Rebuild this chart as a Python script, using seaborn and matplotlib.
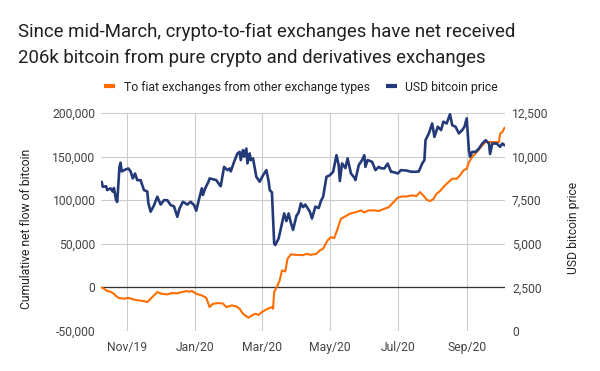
import matplotlib
matplotlib.use("Agg")
import matplotlib.pyplot as plt
import matplotlib.dates as mdates
from matplotlib.ticker import FuncFormatter, MultipleLocator
from matplotlib.lines import Line2D
import seaborn as sns
import pandas as pd

# ---------------- data ----------------
flow_dates = [
    "2019-10-09", "2019-10-11", "2019-10-14", "2019-10-17", "2019-10-20", "2019-10-22",
    "2019-10-24", "2019-10-29", "2019-11-02", "2019-11-07", "2019-11-11", "2019-11-16",
    "2019-11-19", "2019-11-22", "2019-11-25", "2019-11-28", "2019-12-02", "2019-12-07",
    "2019-12-11", "2019-12-16", "2019-12-20", "2019-12-24", "2019-12-27", "2019-12-29",
    "2020-01-02", "2020-01-07", "2020-01-11", "2020-01-14", "2020-01-17", "2020-01-22",
    "2020-01-26", "2020-01-29", "2020-02-03", "2020-02-07", "2020-02-10", "2020-02-13",
    "2020-02-18", "2020-02-21", "2020-02-24", "2020-02-27", "2020-03-01", "2020-03-06",
    "2020-03-10", "2020-03-11", "2020-03-12", "2020-03-15", "2020-03-17", "2020-03-19",
    "2020-03-22", "2020-03-24", "2020-03-27", "2020-04-01", "2020-04-07", "2020-04-10",
    "2020-04-14", "2020-04-19", "2020-04-22", "2020-04-25", "2020-04-29", "2020-05-02",
    "2020-05-05", "2020-05-08", "2020-05-11", "2020-05-14", "2020-05-19", "2020-05-25",
    "2020-05-29", "2020-06-01", "2020-06-05", "2020-06-10", "2020-06-14", "2020-06-19",
    "2020-06-23", "2020-06-26", "2020-07-01", "2020-07-05", "2020-07-09", "2020-07-14",
    "2020-07-18", "2020-07-21", "2020-07-24", "2020-07-27", "2020-07-30", "2020-08-02",
    "2020-08-05", "2020-08-08", "2020-08-11", "2020-08-14", "2020-08-19", "2020-08-23",
    "2020-08-26", "2020-08-29", "2020-09-01", "2020-09-03", "2020-09-06", "2020-09-10",
    "2020-09-15", "2020-09-18", "2020-09-22", "2020-09-27", "2020-09-30", "2020-10-01",
    "2020-10-03", "2020-10-05",
]
flow_btc = [
    0, -1500, -4200, -5000, -7300, -10000,
    -11900, -13000, -11900, -14000, -14900, -15700,
    -16800, -13000, -9200, -5400, -7300, -8000,
    -6500, -6800, -5400, -4200, -5000, -4000,
    -7300, -9200, -11900, -22600, -18800, -18000,
    -18500, -22600, -20700, -21800, -24500, -30200,
    -34800, -32100, -30200, -31500, -28300, -24500,
    -22600, -24500, -5400, 2300, 8000, 19500,
    18300, 32900, 37900, 37300, 37000, 38500,
    37300, 38500, 42400, 44400, 53900, 57700,
    56500, 67300, 78800, 80700, 84500, 86500,
    88300, 86000, 88300, 88300, 87600, 90200,
    92000, 96000, 102900, 104300, 104300, 105500,
    104800, 109300, 105500, 100600, 99000, 101300,
    107500, 110500, 115000, 118900, 124600, 124600,
    128500, 134200, 136000, 143700, 149500, 155200,
    162900, 166700, 166700, 166700, 166700, 176300,
    178100, 183200,
]

price_dates = [
    "2019-10-09", "2019-10-10", "2019-10-13", "2019-10-14", "2019-10-17", "2019-10-19",
    "2019-10-20", "2019-10-22", "2019-10-23", "2019-10-25", "2019-10-26", "2019-10-27",
    "2019-10-30", "2019-11-02", "2019-11-04", "2019-11-06", "2019-11-08", "2019-11-10",
    "2019-11-13", "2019-11-16", "2019-11-19", "2019-11-20", "2019-11-22", "2019-11-25",
    "2019-11-28", "2019-12-01", "2019-12-04", "2019-12-07", "2019-12-10", "2019-12-13",
    "2019-12-16", "2019-12-18", "2019-12-21", "2019-12-25", "2019-12-28", "2019-12-31",
    "2020-01-02", "2020-01-05", "2020-01-07", "2020-01-08", "2020-01-10", "2020-01-13",
    "2020-01-14", "2020-01-17", "2020-01-20", "2020-01-23", "2020-01-24", "2020-01-27",
    "2020-01-30", "2020-02-01", "2020-02-02", "2020-02-05", "2020-02-08", "2020-02-10",
    "2020-02-11", "2020-02-13", "2020-02-14", "2020-02-16", "2020-02-17", "2020-02-19",
    "2020-02-20", "2020-02-22", "2020-02-25", "2020-02-28", "2020-03-02", "2020-03-05",
    "2020-03-07", "2020-03-08", "2020-03-10", "2020-03-12", "2020-03-13", "2020-03-16",
    "2020-03-19", "2020-03-21", "2020-03-23", "2020-03-25", "2020-03-27", "2020-03-29",
    "2020-04-01", "2020-04-03", "2020-04-05", "2020-04-07", "2020-04-09", "2020-04-13",
    "2020-04-15", "2020-04-18", "2020-04-21", "2020-04-23", "2020-04-25", "2020-04-28",
    "2020-05-01", "2020-05-04", "2020-05-07", "2020-05-09", "2020-05-10", "2020-05-12",
    "2020-05-15", "2020-05-17", "2020-05-20", "2020-05-23", "2020-05-24", "2020-05-27",
    "2020-05-30", "2020-06-01", "2020-06-02", "2020-06-04", "2020-06-08", "2020-06-11",
    "2020-06-14", "2020-06-16", "2020-06-19", "2020-06-22", "2020-06-25", "2020-06-28",
    "2020-07-01", "2020-07-04", "2020-07-09", "2020-07-13", "2020-07-17", "2020-07-20",
    "2020-07-23", "2020-07-25", "2020-07-26", "2020-07-29", "2020-08-01", "2020-08-03",
    "2020-08-06", "2020-08-09", "2020-08-11", "2020-08-14", "2020-08-17", "2020-08-19",
    "2020-08-22", "2020-08-25", "2020-08-28", "2020-08-30", "2020-09-01", "2020-09-03",
    "2020-09-04", "2020-09-06", "2020-09-09", "2020-09-12", "2020-09-15", "2020-09-18",
    "2020-09-21", "2020-09-22", "2020-09-24", "2020-09-28", "2020-10-01", "2020-10-03",
    "2020-10-05",
]
price_usd = [
    8555, 8270, 8300, 8080, 8180, 7990,
    8200, 7500, 7400, 9410, 9650, 9150,
    9250, 9320, 9150, 8750, 9030, 8650,
    8650, 8080, 8000, 7320, 6840, 7200,
    7700, 7250, 7500, 7500, 7220, 7150,
    6550, 7030, 7410, 7250, 7410, 7220,
    6900, 7690, 8180, 7800, 8180, 8560,
    8750, 8700, 8650, 8370, 8300, 9410,
    9225, 9320, 9150, 9700, 10180, 10270,
    9800, 10370, 10000, 10460, 9610, 10180,
    9800, 9900, 8840, 8560, 8930, 9225,
    8600, 8080, 7950, 5025, 4930, 5300,
    6170, 6740, 6300, 6740, 6200, 5800,
    6600, 6800, 7320, 7100, 7250, 6850,
    6450, 7130, 7050, 7450, 7700, 8840,
    8930, 9130, 10080, 9500, 8600, 9610,
    9340, 9900, 9030, 8800, 8650, 9510,
    9800, 10080, 9410, 9800, 9700, 9225,
    9410, 9330, 9320, 9600, 9130, 9100,
    9030, 9225, 9200, 9130, 9130, 9150,
    9600, 9800, 10940, 11330, 11900, 11130,
    11710, 11520, 12000, 11900, 12430, 11800,
    11710, 11330, 11520, 11710, 12190, 10370,
    9990, 10270, 10270, 10460, 10750, 10940,
    10750, 10150, 10750, 10750, 10560, 10750,
    10650,
]

title_lines = [
    "Since mid-March, crypto-to-fiat exchanges have net received",
    "206k bitcoin from pure crypto and derivatives exchanges",
]
series_names = ["To fiat exchanges from other exchange types", "USD bitcoin price"]
left_label = "Cumulative net flow of bitcoin"
right_label = "USD bitcoin price"

ORANGE = "#ff6d01"
NAVY = "#243a78"

# ---------------- styling ----------------
sns.set_theme(style="white")
plt.rcParams["font.family"] = ["Roboto", "DejaVu Sans"]

W, H = 600, 371
fig = plt.figure(figsize=(6.0, 3.71), dpi=100)
L, R, T, B = 101, 505, 113, 331
ax = fig.add_axes([L / W, 1 - B / H, (R - L) / W, (B - T) / H])
ax2 = ax.twinx()

flow_df = pd.DataFrame({"date": pd.to_datetime(flow_dates), "flow": flow_btc})
price_df = pd.DataFrame({"date": pd.to_datetime(price_dates), "price": price_usd})

sns.lineplot(data=flow_df, x="date", y="flow", ax=ax, color=ORANGE, linewidth=1.5)
sns.lineplot(data=price_df, x="date", y="price", ax=ax2, color=NAVY, linewidth=1.9)

ax.set_ylim(-50000, 200000)
ax2.set_ylim(0, 12500)
ax.set_xlim(pd.Timestamp("2019-10-08 10:00"), pd.Timestamp("2020-10-05 10:00"))

ax.yaxis.set_major_locator(MultipleLocator(50000))
ax2.yaxis.set_major_locator(MultipleLocator(2500))
fmt = FuncFormatter(lambda v, _: f"{v:,.0f}")
ax.yaxis.set_major_formatter(fmt)
ax2.yaxis.set_major_formatter(fmt)
ax.xaxis.set_major_locator(mdates.MonthLocator(bymonth=[1, 3, 5, 7, 9, 11]))
ax.xaxis.set_major_formatter(mdates.DateFormatter("%b/%y"))

ax.grid(True, color="#cccccc", linewidth=0.8)
ax2.grid(False)
ax.axhline(0, color="#333333", linewidth=0.9, zorder=1.5)

for a in (ax, ax2):
    for s in a.spines.values():
        s.set_visible(False)
    a.set_xlabel("")
ax.tick_params(axis="both", length=0, labelsize=8.7, colors="#444444")
ax.tick_params(axis="x", pad=7)
ax.tick_params(axis="y", pad=4)
ax2.tick_params(axis="y", length=0, labelsize=8.7, colors="#444444", pad=5)

ax.set_ylabel(left_label, fontsize=8.7, color="#222222")
ax2.set_ylabel(right_label, fontsize=8.7, color="#222222", rotation=90)
ax.yaxis.label.set_va("center")
ax2.yaxis.label.set_va("center")
ax.yaxis.set_label_coords((27 - L) / (R - L), (B - 229) / (B - T))
ax2.yaxis.set_label_coords((573 - L) / (R - L), (B - 228) / (B - T))

fig.text(18 / W, 1 - 37 / H, title_lines[0], fontsize=13.4, color="#212121",
         ha="left", va="baseline")
fig.text(18 / W, 1 - 63 / H, title_lines[1], fontsize=13.4, color="#212121",
         ha="left", va="baseline")

handles = [
    Line2D([], [], color=ORANGE, linewidth=3.0, solid_capstyle="butt"),
    Line2D([], [], color=NAVY, linewidth=3.0, solid_capstyle="butt"),
]
fig.legend(handles, series_names, ncol=2, loc="center",
           bbox_to_anchor=(301 / W, 1 - 87 / H), frameon=False, fontsize=8.8,
           handlelength=0.9, handletextpad=0.7, columnspacing=1.3,
           labelcolor="#222222")

fig.savefig("out.png", dpi=100)
